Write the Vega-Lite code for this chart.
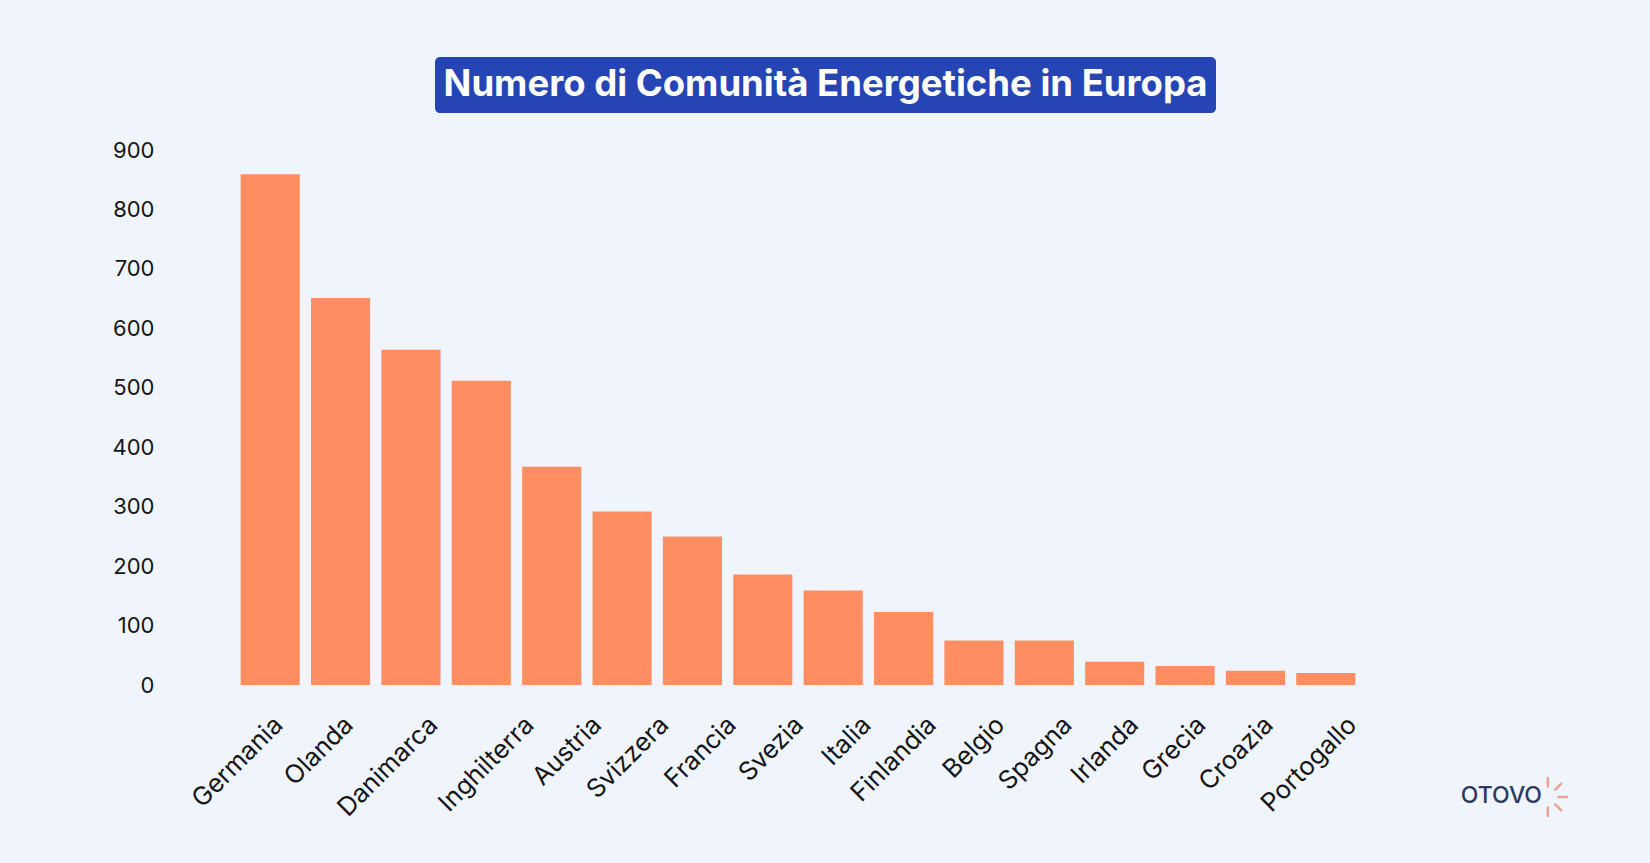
{
  "$schema": "https://vega.github.io/schema/vega-lite/v6.json",
  "background": "#EFF4FD",
  "padding": {"left": 112, "top": 57, "right": 89, "bottom": 43},
  "config": {
    "view": {"stroke": null},
    "font": "Inter",
    "concat": {"spacing": 26}
  },
  "vconcat": [
    {
      "spacing": 20,
      "hconcat": [
        {
          "width": 180,
          "height": 56,
          "data": {"values": []},
          "mark": "point",
          "encoding": {}
        },
        {
          "width": 781,
          "height": 56,
          "view": {"fill": "#2645B5", "stroke": null, "cornerRadius": 5},
          "data": {"values": [{"titolo": "Numero di Comunità Energetiche in Europa"}]},
          "mark": {"type": "text", "color": "#FFFFFF", "fontSize": 36.5, "fontWeight": "bold", "font": "Inter"},
          "encoding": {"text": {"field": "titolo", "type": "nominal"}}
        }
      ]
    },
    {
      "width": 1126,
      "height": 535,
      "layer": [
        {
          "data": {
            "values": [
              {"paese": "Germania", "comunita": 859},
              {"paese": "Olanda", "comunita": 651},
              {"paese": "Danimarca", "comunita": 564},
              {"paese": "Inghilterra", "comunita": 512},
              {"paese": "Austria", "comunita": 367},
              {"paese": "Svizzera", "comunita": 292},
              {"paese": "Francia", "comunita": 250},
              {"paese": "Svezia", "comunita": 186},
              {"paese": "Italia", "comunita": 159},
              {"paese": "Finlandia", "comunita": 123},
              {"paese": "Belgio", "comunita": 75},
              {"paese": "Spagna", "comunita": 75},
              {"paese": "Irlanda", "comunita": 39},
              {"paese": "Grecia", "comunita": 32},
              {"paese": "Croazia", "comunita": 24},
              {"paese": "Portogallo", "comunita": 20}
            ]
          },
          "mark": {"type": "bar", "color": "#FE8D62"},
          "encoding": {
            "x": {
              "field": "paese",
              "type": "nominal",
              "sort": null,
              "scale": {"paddingInner": 0.16, "paddingOuter": 0.08},
              "axis": {
                "title": null,
                "labelAngle": -45,
                "ticks": false,
                "domain": false,
                "labelFontSize": 25.5,
                "labelColor": "#161616",
                "labelPadding": 27,
                "labelOffset": {
                  "condition": [
                    {"test": "datum.value === 'Danimarca'", "value": 14},
                    {"test": "datum.value === 'Inghilterra'", "value": 40},
                    {"test": "datum.value === 'Austria'", "value": 37},
                    {"test": "datum.value === 'Svizzera'", "value": 34},
                    {"test": "datum.value === 'Francia'", "value": 31},
                    {"test": "datum.value === 'Svezia'", "value": 28},
                    {"test": "datum.value === 'Italia'", "value": 25},
                    {"test": "datum.value === 'Finlandia'", "value": 20},
                    {"test": "datum.value === 'Belgio'", "value": 18},
                    {"test": "datum.value === 'Spagna'", "value": 15},
                    {"test": "datum.value === 'Irlanda'", "value": 11},
                    {"test": "datum.value === 'Grecia'", "value": 8},
                    {"test": "datum.value === 'Croazia'", "value": 5},
                    {"test": "datum.value === 'Portogallo'", "value": 18}
                  ],
                  "value": 0
                }
              }
            },
            "y": {
              "field": "comunita",
              "type": "quantitative",
              "scale": {"domain": [0, 900], "nice": false},
              "axis": {
                "title": null,
                "values": [0, 100, 200, 300, 400, 500, 600, 700, 800, 900],
                "ticks": false,
                "domain": false,
                "grid": false,
                "labelFontSize": 22,
                "labelColor": "#161616",
                "labelPadding": 81
              }
            }
          }
        },
        {
          "data": {"values": [{"marchio": "OTOVO"}]},
          "mark": {"type": "text", "align": "left", "baseline": "middle", "fontSize": 23, "fontWeight": 500, "color": "#2B3A5E", "dx": 135, "dy": 111},
          "encoding": {
            "x": {"datum": "Portogallo"},
            "y": {"datum": 0},
            "text": {"field": "marchio", "type": "nominal"}
          }
        },
        {
          "data": {"values": [{"marchio": "OTOVO"}]},
          "mark": {
            "type": "point",
            "shape": "M0,-1L0,-0.55M0.71,-0.71L0.39,-0.39M1,0L0.55,0M0.71,0.71L0.39,0.39M0,1L0,0.55",
            "size": 1444,
            "filled": false,
            "opacity": 1,
            "stroke": "#E8A594",
            "strokeWidth": 2.5,
            "strokeCap": "round",
            "xOffset": 222,
            "yOffset": 112
          },
          "encoding": {
            "x": {"datum": "Portogallo"},
            "y": {"datum": 0}
          }
        }
      ]
    }
  ]
}
